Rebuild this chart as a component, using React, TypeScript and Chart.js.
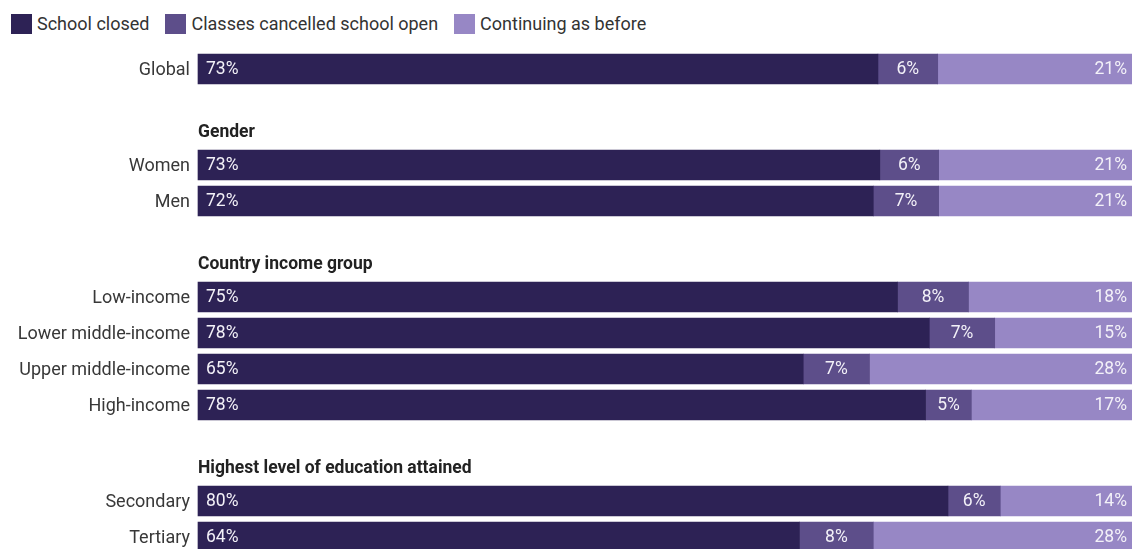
import React, { useEffect, useRef } from "react";
import { Chart, registerables } from "chart.js";

Chart.register(...registerables);

const categories = [
  "Global",
  "Women",
  "Men",
  "Low-income",
  "Lower middle-income",
  "Upper middle-income",
  "High-income",
  "Secondary",
  "Tertiary",
];
const groupOfCategory = [0, 1, 1, 2, 2, 2, 2, 3, 3];
const groupHeaders = ["", "Gender", "Country income group", "Highest level of education attained"];

const schoolClosed = [72.8, 73.0, 72.3, 74.9, 78.3, 64.8, 77.9, 80.3, 64.4];
const classesCancelled = [6.4, 6.3, 7.0, 7.6, 7.0, 7.1, 4.9, 5.6, 7.9];
const continuingAsBefore = [20.8, 20.7, 20.7, 17.5, 14.7, 28.1, 17.2, 14.1, 27.7];

const seriesNames = ["School closed", "Classes cancelled school open", "Continuing as before"];
const seriesColors = ["#2d2255", "#5d4e8a", "#9787c5"];

const FONT = "Roboto, 'Noto Sans', sans-serif";
const ROW_SLOTS = 3;
const GROUP_SLOTS = 8;

function buildSlots() {
  const slotOf: number[] = [];
  let s = 0;
  categories.forEach((_, i) => {
    if (i > 0) s += groupOfCategory[i] !== groupOfCategory[i - 1] ? GROUP_SLOTS : ROW_SLOTS;
    slotOf.push(s);
  });
  const n = s + 1;
  const labels: string[] = new Array(n).fill("");
  slotOf.forEach((slot, i) => (labels[slot] = categories[i]));
  const toSlots = (arr: number[]) => {
    const out: (number | null)[] = new Array(n).fill(null);
    slotOf.forEach((slot, i) => (out[slot] = arr[i]));
    return out;
  };
  return { slotOf, labels, toSlots };
}

export default function App() {
  const ref = useRef<HTMLCanvasElement | null>(null);

  useEffect(() => {
    if (!ref.current) return;
    const { slotOf, labels, toSlots } = buildSlots();
    const values = [schoolClosed, classesCancelled, continuingAsBefore];

    const barLabels = {
      id: "barLabels",
      afterDatasetsDraw(chart: any) {
        const ctx = chart.ctx;
        ctx.save();
        ctx.font = `17.5px ${FONT}`;
        ctx.fillStyle = "#f3f1f8";
        ctx.textBaseline = "middle";
        chart.data.datasets.forEach((ds: any, di: number) => {
          const meta = chart.getDatasetMeta(di);
          meta.data.forEach((el: any, idx: number) => {
            const v = ds.data[idx];
            if (v === null || v === undefined) return;
            const txt = Math.round(v) + "%";
            const left = Math.min(el.base, el.x);
            const right = Math.max(el.base, el.x);
            if (di === 0) {
              ctx.textAlign = "left";
              ctx.fillText(txt, left + 8, el.y + 1);
            } else if (di === 1) {
              ctx.textAlign = "center";
              ctx.fillText(txt, (left + right) / 2, el.y + 1);
            } else {
              ctx.textAlign = "right";
              ctx.fillText(txt, right - 5, el.y + 1);
            }
          });
        });
        ctx.restore();
      },
    };

    const headers = {
      id: "groupHeaders",
      afterDraw(chart: any) {
        const ctx = chart.ctx;
        const yScale = chart.scales.y;
        ctx.save();
        ctx.font = `bold 17.5px ${FONT}`;
        ctx.fillStyle = "#222222";
        ctx.textAlign = "left";
        ctx.textBaseline = "middle";
        groupHeaders.forEach((h, g) => {
          if (!h) return;
          const first = groupOfCategory.indexOf(g);
          const y = yScale.getPixelForValue(slotOf[first]) - 32;
          ctx.fillText(h, chart.chartArea.left, y);
        });
        ctx.restore();
      },
    };

    const chart = new Chart(ref.current, {
      type: "bar",
      data: {
        labels,
        datasets: values.map((arr, i) => ({
          label: seriesNames[i],
          data: toSlots(arr),
          backgroundColor: seriesColors[i],
          borderWidth: 0,
          barThickness: 30,
          clip: false,
        })),
      },
      options: {
        indexAxis: "y",
        animation: false,
        responsive: true,
        maintainAspectRatio: false,
        layout: { padding: { top: 63, bottom: 20, left: 0, right: 0 } },
        plugins: {
          legend: { display: false },
          tooltip: { enabled: false },
        },
        scales: {
          x: { stacked: true, min: 0, max: 100, display: false },
          y: {
            stacked: true,
            offset: true,
            grid: { display: false, drawTicks: false },
            border: { display: false },
            ticks: {
              autoSkip: false,
              padding: 8,
              labelOffset: 1,
              color: "#383838",
              font: { family: FONT, size: 18 },
            },
            afterFit(scale: any) {
              scale.width = 198;
            },
          },
        },
      } as any,
      plugins: [barLabels, headers],
    });
    return () => chart.destroy();
  }, []);

  return (
    <div
      style={{
        position: "fixed",
        left: 0,
        top: 0,
        width: 1132,
        height: 549,
        overflow: "hidden",
        background: "#fff",
        fontFamily: FONT,
      }}
    >
      <div
        style={{
          position: "absolute",
          left: 11,
          top: 13,
          height: 21,
          display: "flex",
          alignItems: "center",
          fontSize: 18,
          color: "#333333",
          whiteSpace: "nowrap",
        }}
      >
        {seriesNames.map((n, i) => (
          <div key={n} style={{ display: "flex", alignItems: "center", marginRight: 16 }}>
            <span
              style={{
                display: "inline-block",
                width: 21,
                height: 20,
                background: seriesColors[i],
                marginRight: 5,
              }}
            />
            <span>{n}</span>
          </div>
        ))}
      </div>
      <div style={{ position: "absolute", left: 0, top: 0, width: 1132, height: 563 }}>
        <canvas ref={ref} />
      </div>
    </div>
  );
}
